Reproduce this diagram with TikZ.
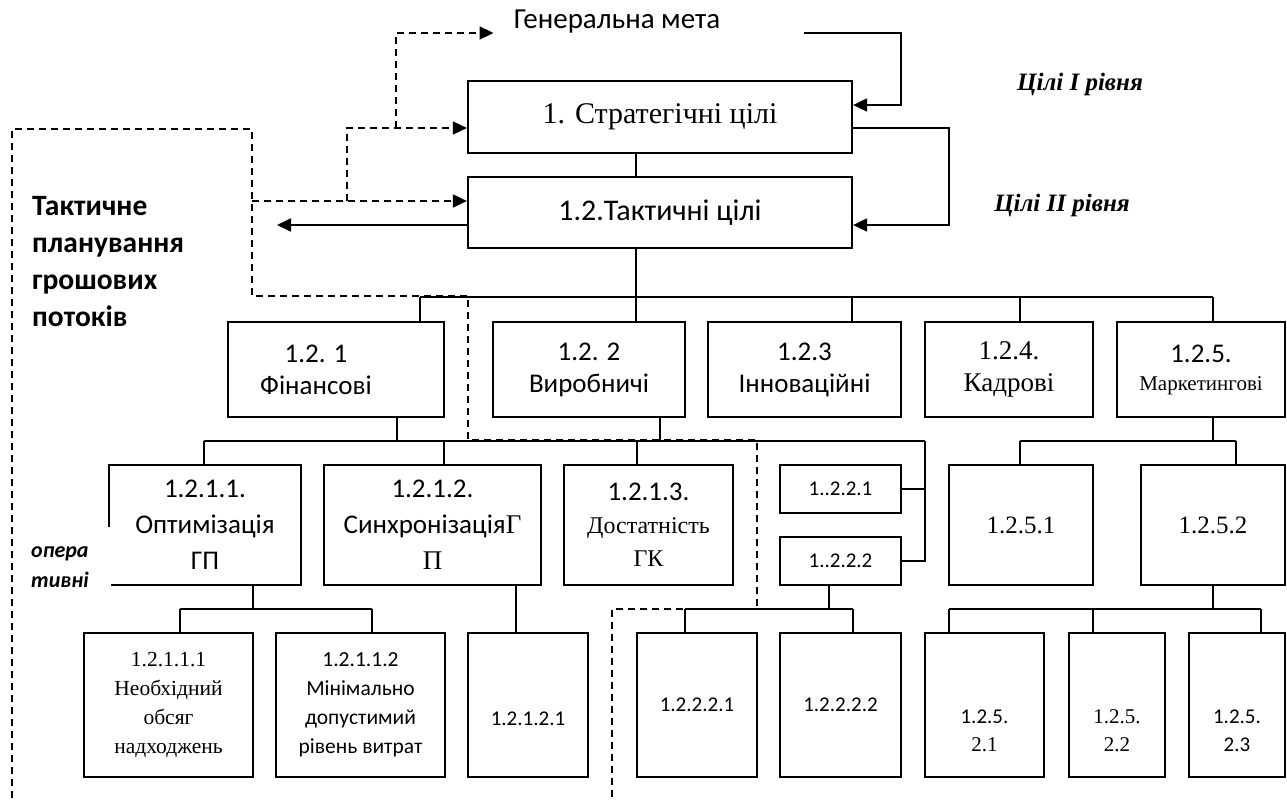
\documentclass[tikz,border=0pt]{standalone}
\usepackage{fontspec}
\setmainfont{Liberation Serif}
\newfontfamily\calfont{Carlito}
\usetikzlibrary{arrows.meta}

\begin{document}
\begin{tikzpicture}[x=1pt,y=-1pt,
  box/.style={draw,line width=2.2pt,inner sep=0pt,align=center},
  conn/.style={line width=1.8pt},
  dline/.style={line width=1.8pt,dash pattern=on 7pt off 5pt},
  arr/.style={-{Triangle[length=14pt,width=13pt]}}]

\fill[white] (0,0) rectangle (1287,800);
\useasboundingbox (0,0) rectangle (1287,800);

\node[anchor=base,inner xsep=20pt,font=\calfont\fontsize{29}{32}\selectfont] (gen) at (617,29) {Генеральна мета};

\node[box,minimum width=384pt,minimum height=72pt,font=\fontsize{30}{34}\selectfont] (strat) at (660,117) {1. Стратегічні цілі};
\node[box,minimum width=384pt,minimum height=71pt,font=\calfont\fontsize{30}{34}\selectfont] (tact) at (660,212.5) {1.2.Тактичні цілі};

\node[anchor=base,font=\bfseries\itshape\fontsize{25}{28}\selectfont] (lev1) at (1080,90) {Цілі I рівня};
\node[anchor=base,font=\bfseries\itshape\fontsize{25}{28}\selectfont] (lev2) at (1062,211) {Цілі II рівня};

\node[anchor=north west,inner sep=0pt,align=left,font=\calfont\bfseries\fontsize{29.5}{37}\selectfont] (tplan) at (32,196) {Тактичне\\планування\\грошових\\потоків};

\node[box,minimum width=216pt,minimum height=95pt,label={[align=center,xshift=-20pt,font=\calfont\fontsize{27}{32}\selectfont]center:{1.2. 1\\Фінансові}}] (b121) at (336,369.5) {};
\node[box,minimum width=192pt,minimum height=95pt,font=\calfont\fontsize{27}{32}\selectfont] (b122) at (589,369.5) {1.2. 2\\Виробничі};
\node[box,minimum width=193pt,minimum height=95pt,font=\calfont\fontsize{27}{32}\selectfont] (b123) at (804.5,369.5) {1.2.3\\Інноваційні};
\node[box,minimum width=168pt,minimum height=95pt,font=\fontsize{27}{32}\selectfont] (b124) at (1009,369.5) {1.2.4.\\Кадрові};
\node[box,minimum width=168pt,minimum height=95pt,font=\fontsize{27}{28}\selectfont] (b125) at (1201,369.5) {{\calfont 1.2.5.}\\{\fontsize{21}{22}\selectfont Маркетингові}};

\node[box,minimum width=192pt,minimum height=120pt,font=\calfont\fontsize{27}{36}\selectfont] (b1211) at (205,525) {1.2.1.1.\\Оптимізація\\ГП};
\node[box,minimum width=217pt,minimum height=120pt,font=\calfont\fontsize{27}{36}\selectfont] (b1212) at (432.5,525) {1.2.1.2.\\Синхронізація{\rmfamily Г}\\{\rmfamily П}};
\node[box,minimum width=169pt,minimum height=120pt,font=\fontsize{24}{33}\selectfont] (b1213) at (648.5,525) {{\calfont\fontsize{27}{33}\selectfont 1.2.1.3.}\\Достатність\\ГК};
\node[box,minimum width=121pt,minimum height=48pt,font=\calfont\fontsize{21}{24}\selectfont] (b1221) at (840.5,489) {1..2.2.1};
\node[box,minimum width=121pt,minimum height=48pt,font=\calfont\fontsize{21}{24}\selectfont] (b1222) at (840.5,561) {1..2.2.2};
\node[box,minimum width=144pt,minimum height=120pt,font=\fontsize{25}{30}\selectfont] (b1251) at (1021,525) {1.2.5.1};
\node[box,minimum width=144pt,minimum height=120pt,font=\fontsize{25}{30}\selectfont] (b1252) at (1213,525) {1.2.5.2};

\node[box,minimum width=169pt,minimum height=144pt,font=\fontsize{21.5}{29}\selectfont] (b12111) at (168.5,705) {1.2.1.1.1\\Необхідний\\обсяг\\надходжень};
\node[box,minimum width=169pt,minimum height=144pt,font=\calfont\fontsize{21.5}{29}\selectfont] (b12112) at (360.5,705) {1.2.1.1.2\\Мінімально\\допустимий\\рівень витрат};
\node[box,minimum width=120pt,minimum height=144pt,label={[yshift=-14pt,font=\calfont\fontsize{21}{24}\selectfont]center:1.2.1.2.1}] (b12121) at (528,705) {};
\node[box,minimum width=120pt,minimum height=144pt,font=\calfont\fontsize{21}{24}\selectfont] (b12221) at (697,705) {1.2.2.2.1};
\node[box,minimum width=121pt,minimum height=144pt,font=\calfont\fontsize{21}{24}\selectfont] (b12222) at (840.5,705) {1.2.2.2.2};
\node[box,minimum width=119pt,minimum height=144pt,label={[align=center,yshift=-26pt,font=\fontsize{21}{28}\selectfont]center:{{\calfont 1.2.5.}\\2.1}}] (b12521) at (984.5,705) {};
\node[box,minimum width=96pt,minimum height=144pt,label={[align=center,yshift=-26pt,font=\fontsize{21}{28}\selectfont]center:{1.2.5.\\2.2}}] (b12522) at (1117,705) {};
\node[box,minimum width=96pt,minimum height=144pt,label={[align=center,yshift=-26pt,font=\calfont\fontsize{21}{28}\selectfont]center:{1.2.5.\\2.3}}] (b12523) at (1237,705) {};

\node[anchor=north west,fill=white,inner xsep=4pt,inner ysep=0pt,text width=76pt,align=left,font=\calfont\bfseries\itshape\fontsize{22}{30}\selectfont] (oper) at (27,527) {\rule{0pt}{30pt}опера\\тивні};

\coordinate (gout) at (804,33);
\coordinate (g1) at (901,105);
\draw[conn,arr] (gout) -| (g1) -- (g1 -| strat.east);
\coordinate (s1) at (949,128);
\coordinate (s2) at (949,225);
\draw[conn,arr] (s1 -| strat.east) -- (s1) -- (s2) -- (s2 -| tact.east);
\coordinate (tout) at (277,225);
\draw[conn,arr] (tout -| tact.west) -- (tout);

\coordinate (tp) at (252,201);
\coordinate (k1) at (347,201);
\coordinate (k2) at (396,128);
\coordinate (k3) at (396,33);
\draw[dline,arr] (tp) -- (tp -| tact.west);
\draw[dline,arr] (k1) |- (k2 -| strat.west);
\draw[dline,arr] (k2) -- (k3) -- (k3 -| gen.west);
\draw[dline] (12,798) -- (12,129) -- (252,129) -- (tp) -- (252,296) -- (468,296) -- (468,440) -- (757,440) -- (757,609) -- (612,609) -- (612,798);

\coordinate (spine) at (636,297);
\draw[conn] (strat.south -| spine) -- (tact.north -| spine);
\draw[conn] (tact.south -| spine) -- (spine);
\draw[conn] (420,297) -- (1213,297);
\foreach \n/\x in {b121/420, b122/636, b123/852, b124/1020, b125/1213}
  \draw[conn] (\x,297) -- (\x,297 |- \n.north);

\draw[conn] (b121.south -| 397,0) -- (397,441);
\draw[conn] (b122.south -| 660,0) -- (660,441);
\draw[conn] (204,441) -- (925,441);
\foreach \n/\x in {b1211/204, b1212/444, b1213/637}
  \draw[conn] (\x,441) -- (\x,441 |- \n.north);
\draw[conn] (925,441) |- (b1221.east);
\draw[conn] (925,441) |- (b1222.east);

\draw[conn] (b125.south -| 1213,0) -- (1213,441);
\draw[conn] (1020,441) -- (1236,441);
\foreach \n/\x in {b1251/1020, b1252/1236}
  \draw[conn] (\x,441) -- (\x,441 |- \n.north);

\draw[conn] (b1211.south -| 253,0) -- (253,609);
\draw[conn] (180,609) -- (372,609);
\foreach \n/\x in {b12111/180, b12112/372}
  \draw[conn] (\x,609) -- (\x,609 |- \n.north);
\draw[conn] (b1212.south -| 516,0) -- (516,0 |- b12121.north);

\draw[conn] (b1222.south -| 829,0) -- (829,609);
\draw[conn] (685,609) -- (853,609);
\foreach \n/\x in {b12221/685, b12222/853}
  \draw[conn] (\x,609) -- (\x,609 |- \n.north);

\draw[conn] (b1252.south -| 1213,0) -- (1213,609);
\draw[conn] (949,609) -- (1261,609);
\foreach \n/\x in {b12521/949, b12522/1093, b12523/1261}
  \draw[conn] (\x,609) -- (\x,609 |- \n.north);

\end{tikzpicture}
\end{document}
